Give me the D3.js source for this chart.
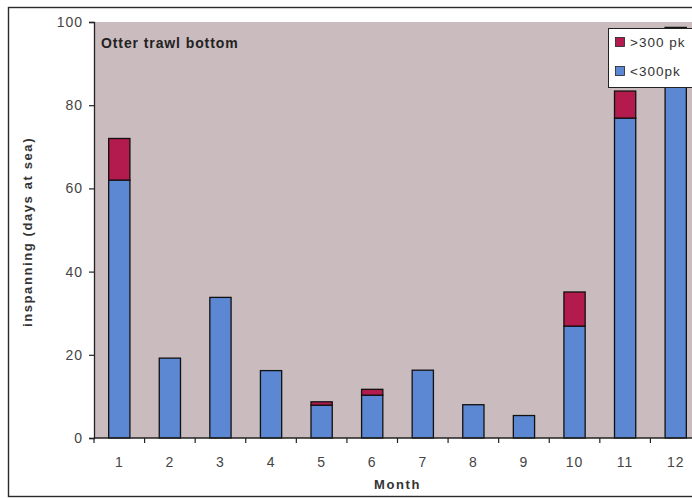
<!DOCTYPE html>
<html>
<head>
<meta charset="utf-8">
<script src="https://cdn.jsdelivr.net/npm/d3@7"></script>
<style>
  html, body { margin: 0; padding: 0; background: #ffffff; }
  svg { display: block; }
  text { font-family: "Liberation Sans", Arial, sans-serif; }
</style>
</head>
<body>
<svg id="chart" width="692" height="498"></svg>
<script>
// Fishing effort (days at sea) per month, otter trawl bottom
const months = [1, 2, 3, 4, 5, 6, 7, 8, 9, 10, 11, 12];
const under300 = [62, 19.2, 33.8, 16.2, 7.9, 10.3, 16.3, 8.0, 5.4, 26.9, 76.9, 91];
const over300 = [10, 0, 0, 0, 0.8, 1.4, 0, 0, 0, 8.2, 6.5, 7.7];
const yTicks = [0, 20, 40, 60, 80, 100];
const seriesNames = [">300 pk", "<300pk"];
const seriesColors = { under: "#5b87d3", over: "#b31a4e" };

const svg = d3.select("#chart");

const plot = { left: 94, right: 701, top: 22, bottom: 438 };

const x = d3.scaleBand()
  .domain(months)
  .range([plot.left, plot.right])
  .paddingInner(0.58)
  .paddingOuter(0.29);

const y = d3.scaleLinear()
  .domain([0, 100])
  .range([plot.bottom, plot.top]);

// outer chart frame
svg.append("rect")
  .attr("x", 8.5).attr("y", 7.5)
  .attr("width", 720).attr("height", 489)
  .attr("fill", "#ffffff")
  .attr("stroke", "#2a2a2a")
  .attr("stroke-width", 1.4);

// plot area background
svg.append("rect")
  .attr("x", plot.left).attr("y", plot.top)
  .attr("width", plot.right - plot.left)
  .attr("height", plot.bottom - plot.top)
  .attr("fill", "#cabbbe");

// stacked bars
const stacked = months.map((m, i) => ({ m, under: under300[i], over: over300[i] }));

const g = svg.append("g");
g.selectAll("rect.under")
  .data(stacked)
  .join("rect")
  .attr("class", "under")
  .attr("x", d => x(d.m))
  .attr("width", x.bandwidth())
  .attr("y", d => y(d.under))
  .attr("height", d => y(0) - y(d.under))
  .attr("fill", seriesColors.under)
  .attr("stroke", "#111")
  .attr("stroke-width", 1.3);

g.selectAll("rect.over")
  .data(stacked.filter(d => d.over > 0))
  .join("rect")
  .attr("class", "over")
  .attr("x", d => x(d.m))
  .attr("width", x.bandwidth())
  .attr("y", d => y(d.under + d.over))
  .attr("height", d => y(d.under) - y(d.under + d.over))
  .attr("fill", seriesColors.over)
  .attr("stroke", "#111")
  .attr("stroke-width", 1.3);

// y axis
const yAxis = d3.axisLeft(y)
  .tickValues(yTicks)
  .tickSize(5)
  .tickPadding(6);
const yg = svg.append("g")
  .attr("transform", `translate(${plot.left},0)`)
  .call(yAxis);
yg.select(".domain").attr("stroke", "#222").attr("stroke-width", 1.3);
yg.selectAll(".tick line").attr("stroke", "#222").attr("stroke-width", 1.2);
yg.selectAll(".tick text")
  .attr("font-family", "'Liberation Sans', Arial, sans-serif")
  .attr("font-size", 14)
  .attr("letter-spacing", 1)
  .attr("fill", "#444");

// x axis: ticks sit on category boundaries
const xg = svg.append("g")
  .attr("transform", `translate(0,${plot.bottom})`);
xg.append("line")
  .attr("x1", plot.left).attr("x2", plot.right)
  .attr("stroke", "#222").attr("stroke-width", 1.3);
const boundaries = months.map(m => x(m) - x.step() * x.paddingOuter());
xg.selectAll("line.tk")
  .data(boundaries)
  .join("line")
  .attr("class", "tk")
  .attr("x1", d => d).attr("x2", d => d)
  .attr("y1", 0).attr("y2", 5)
  .attr("stroke", "#222").attr("stroke-width", 1.2);
xg.selectAll("text")
  .data(months)
  .join("text")
  .attr("x", d => x(d) + x.bandwidth() / 2)
  .attr("y", 29)
  .attr("text-anchor", "middle")
  .attr("font-size", 14)
  .attr("letter-spacing", 1)
  .attr("fill", "#444")
  .text(d => d);

// axis titles
svg.append("text")
  .attr("x", (plot.left + plot.right) / 2)
  .attr("y", 489)
  .attr("text-anchor", "middle")
  .attr("font-size", 13)
  .attr("font-weight", "bold")
  .attr("letter-spacing", 1.6)
  .attr("fill", "#333")
  .text("Month");

svg.append("text")
  .attr("transform", `translate(32,${(plot.top + plot.bottom) / 2 + 2}) rotate(-90)`)
  .attr("text-anchor", "middle")
  .attr("font-size", 13)
  .attr("font-weight", "bold")
  .attr("letter-spacing", 1.6)
  .attr("fill", "#333")
  .text("inspanning (days at sea)");

// chart title inside plot
svg.append("text")
  .attr("x", 101)
  .attr("y", 48)
  .attr("font-size", 14)
  .attr("font-weight", "bold")
  .attr("letter-spacing", 0.9)
  .attr("fill", "#222")
  .text("Otter trawl bottom");

// legend
const lg = svg.append("g").attr("transform", "translate(608,28)");
lg.append("rect")
  .attr("x", 0.5).attr("y", 0.5)
  .attr("width", 110).attr("height", 59)
  .attr("fill", "#ffffff")
  .attr("stroke", "#222").attr("stroke-width", 1);
const items = [
  { name: seriesNames[0], color: seriesColors.over, yy: 14 },
  { name: seriesNames[1], color: seriesColors.under, yy: 43 }
];
items.forEach(it => {
  lg.append("rect")
    .attr("x", 7.5).attr("y", it.yy - 4.5)
    .attr("width", 9).attr("height", 9)
    .attr("fill", it.color)
    .attr("stroke", "#222").attr("stroke-width", 0.8);
  lg.append("text")
    .attr("x", 22).attr("y", it.yy + 5)
    .attr("font-size", 13.5)
    .attr("letter-spacing", 1)
    .attr("fill", "#333")
    .text(it.name);
});
</script>
</body>
</html>
